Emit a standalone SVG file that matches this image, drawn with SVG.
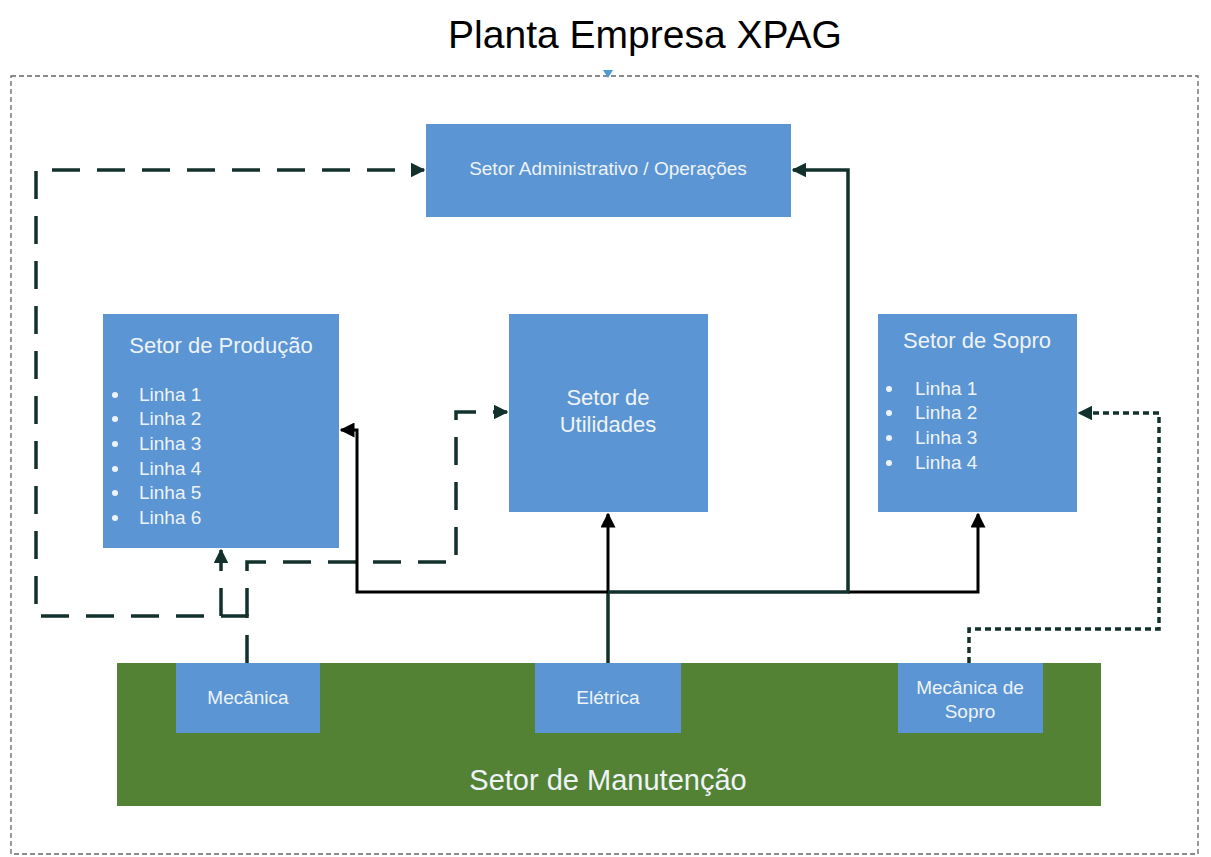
<svg xmlns="http://www.w3.org/2000/svg" width="1211" height="857" viewBox="0 0 1211 857">
<style>
text{font-family:"Liberation Sans",Arial,sans-serif}
.box{fill:#5b95d3}
.lt{fill:#eef3f8}
.green{fill:#548235}
.dash{fill:none;stroke:#12302c;stroke-width:3.5;stroke-dasharray:28 17}
.dot{fill:none;stroke:#12302c;stroke-width:3.5;stroke-dasharray:6 4}
.solid{fill:none;stroke:#000;stroke-width:3}
.solidt{fill:none;stroke:#12302c;stroke-width:3.5}
</style>
<defs>
<marker id="ah" viewBox="0 0 10 10" refX="9" refY="5" markerWidth="4.2" markerHeight="4.2" orient="auto" markerUnits="strokeWidth"><path d="M0,0 L10,5 L0,10 z" fill="#12302c"/></marker>
<marker id="ahb" viewBox="0 0 10 10" refX="9" refY="5" markerWidth="5" markerHeight="5" orient="auto" markerUnits="strokeWidth"><path d="M0,0 L10,5 L0,10 z" fill="#000"/></marker>
</defs>
<rect width="1211" height="857" fill="#fff"/>
<text x="645" y="48" font-size="39" text-anchor="middle" fill="#000">Planta Empresa XPAG</text>
<rect x="11" y="76" width="1187" height="778" fill="none" stroke="#666" stroke-width="1.3" stroke-dasharray="5 3"/>
<path d="M603,70 L613,70 L608,78 z" fill="#4f9ad0"/>

<g id="admin"><rect class="box" x="426" y="124" width="365" height="93"/><text class="lt" x="608" y="175" font-size="19" text-anchor="middle">Setor Administrativo / Operações</text></g>

<g id="producao"><rect class="box" x="103" y="314" width="236" height="234"/>
<text class="lt" x="221" y="353" font-size="22" text-anchor="middle">Setor de Produção</text>
<g class="lt" font-size="19">
<circle cx="115" cy="395" r="3"/><text x="139" y="401">Linha 1</text>
<circle cx="115" cy="419" r="3"/><text x="139" y="425">Linha 2</text>
<circle cx="115" cy="444" r="3"/><text x="139" y="450">Linha 3</text>
<circle cx="115" cy="469" r="3"/><text x="139" y="475">Linha 4</text>
<circle cx="115" cy="493" r="3"/><text x="139" y="499">Linha 5</text>
<circle cx="115" cy="518" r="3"/><text x="139" y="524">Linha 6</text>
</g></g>

<g id="utilidades"><rect class="box" x="509" y="314" width="199" height="198"/>
<text class="lt" x="608" y="405" font-size="22" text-anchor="middle">Setor de</text>
<text class="lt" x="608" y="432" font-size="22" text-anchor="middle">Utilidades</text></g>

<g id="sopro"><rect class="box" x="878" y="314" width="199" height="198"/>
<text class="lt" x="977" y="348" font-size="22" text-anchor="middle">Setor de Sopro</text>
<g class="lt" font-size="19">
<circle cx="889" cy="389" r="3"/><text x="915" y="395">Linha 1</text>
<circle cx="889" cy="413" r="3"/><text x="915" y="419">Linha 2</text>
<circle cx="889" cy="438" r="3"/><text x="915" y="444">Linha 3</text>
<circle cx="889" cy="463" r="3"/><text x="915" y="469">Linha 4</text>
</g></g>

<g id="manutencao"><rect class="green" x="117" y="663" width="984" height="143"/>
<text class="lt" x="608" y="790" font-size="29" text-anchor="middle">Setor de Manutenção</text></g>

<g id="mecanica"><rect class="box" x="176" y="663" width="144" height="70"/><text class="lt" x="248" y="704" font-size="19" text-anchor="middle">Mecânica</text></g>
<g id="eletrica"><rect class="box" x="535" y="663" width="146" height="70"/><text class="lt" x="608" y="704" font-size="19" text-anchor="middle">Elétrica</text></g>
<g id="mecsopro"><rect class="box" x="898" y="663" width="145" height="70"/><text class="lt" x="970" y="694" font-size="19" text-anchor="middle">Mecânica de</text><text class="lt" x="970" y="718" font-size="19" text-anchor="middle">Sopro</text></g>

<g id="connectors">
<path class="dash" d="M247,663 L247,616 L36,616 L36,170 L424,170" marker-end="url(#ah)"/>
<path class="dash" d="M221,616 L221,550" marker-end="url(#ah)"/>
<path class="dash" d="M247,616 L247,562 L456,562 L456,412 L507,412" marker-end="url(#ah)"/>
<path class="solidt" d="M608,663 L608,592"/>
<path class="solid" d="M608,592 L608,514" marker-end="url(#ahb)"/>
<path class="solid" d="M608,592 L357,592 L357,430 L341,430" marker-end="url(#ahb)"/>
<path class="solid" d="M848,592 L978,592 L978,514" marker-end="url(#ahb)"/>
<path class="solidt" d="M608,592 L848,592 L848,170 L793,170" marker-end="url(#ah)"/>
<path class="dot" d="M969,663 L969,629 L1159,629 L1159,413 L1079,413" marker-end="url(#ah)"/>
</g>
</svg>
